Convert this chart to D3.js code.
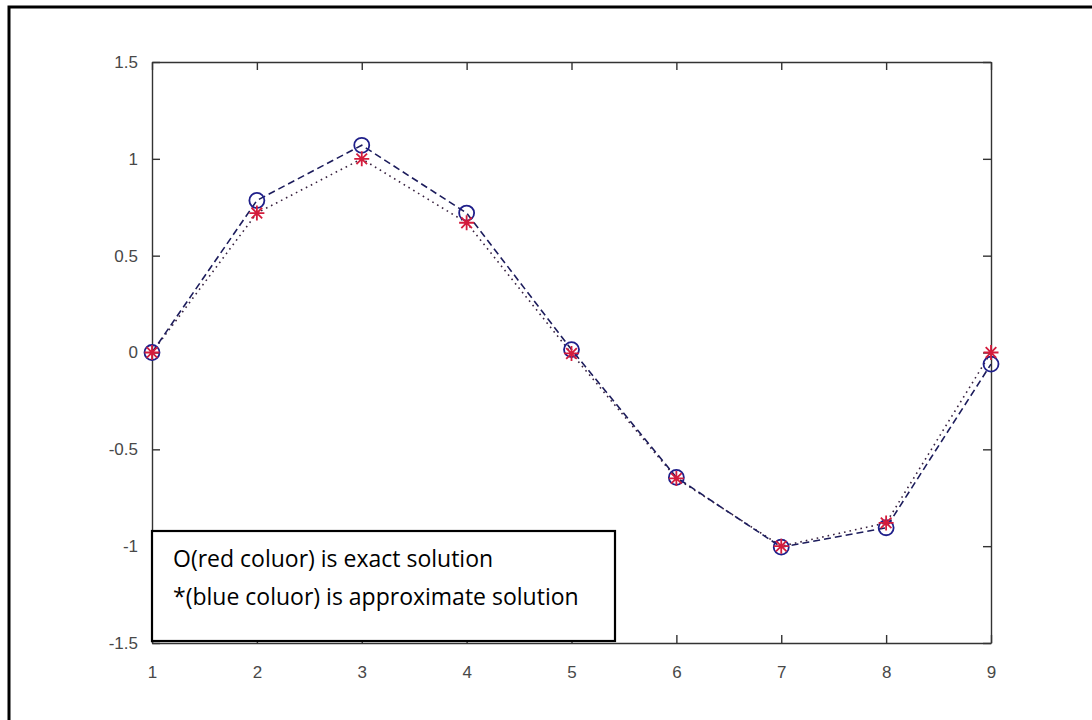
<!DOCTYPE html>
<html>
<head>
<meta charset="utf-8">
<script src="https://cdn.jsdelivr.net/npm/d3@7"></script>
<style>
  body { margin: 0; background: #fff; }
  .tk path, .tk line { stroke: #333; stroke-width: 1.4; }
</style>
</head>
<body>
<div id="chart"></div>
<script>
// x positions and the two series
var xs = [1, 2, 3, 4, 5, 6, 7, 8, 9];
var approx = [0, 0.785, 1.07, 0.72, 0.015, -0.645, -1.005, -0.905, -0.06];   // circles, dashed
var exact = [0, 0.72, 1.0, 0.67, -0.005, -0.65, -1.0, -0.88, 0.0];          // stars, dotted
var xTicks = [1, 2, 3, 4, 5, 6, 7, 8, 9];
var yTicks = [-1.5, -1, -0.5, 0, 0.5, 1, 1.5];
var legendLines = ["O(red coluor) is exact solution", "*(blue coluor) is approximate solution"];

var w = 1092, h = 720;
var svg = d3.select("#chart").append("svg")
    .attr("width", w)
    .attr("height", h);

// outer frame (only top/left visible in the picture)
svg.append("rect")
    .attr("x", 9).attr("y", 7)
    .attr("width", 1200).attr("height", 800)
    .attr("fill", "none")
    .attr("stroke", "#000")
    .attr("stroke-width", 3);

var x = d3.scaleLinear().domain([1, 9]).range([152, 991]);
var y = d3.scaleLinear().domain([-1.5, 1.5]).range([643, 62]);

var fmt = function (d) { return String(d); };

var styleTicks = function (g) {
    g.attr("font-size", null).attr("font-family", null);
    g.selectAll("text")
        .attr("font-family", "'Liberation Sans', Arial, sans-serif")
        .attr("font-size", "17px")
        .attr("fill", "#484848");
};

svg.append("g").attr("class", "tk")
    .attr("transform", "translate(0,643)")
    .call(d3.axisBottom(x).tickValues(xTicks).tickSizeInner(-8).tickSizeOuter(0).tickPadding(23).tickFormat(fmt))
    .call(styleTicks);
svg.append("g").attr("class", "tk")
    .attr("transform", "translate(0,62)")
    .call(d3.axisTop(x).tickValues(xTicks).tickSizeInner(-8).tickSizeOuter(0).tickFormat(""));
svg.append("g").attr("class", "tk")
    .attr("transform", "translate(152,0)")
    .call(d3.axisLeft(y).tickValues(yTicks).tickSizeInner(-8).tickSizeOuter(0).tickPadding(14).tickFormat(fmt))
    .call(styleTicks);
svg.append("g").attr("class", "tk")
    .attr("transform", "translate(991,0)")
    .call(d3.axisRight(y).tickValues(yTicks).tickSizeInner(-8).tickSizeOuter(0).tickFormat(""));

var line = d3.line()
    .x(function (d, i) { return x(xs[i]); })
    .y(function (d) { return y(d); });

svg.append("path")
    .datum(exact)
    .attr("d", line)
    .attr("fill", "none")
    .attr("stroke", "#3a2340")
    .attr("stroke-width", 1.6)
    .attr("stroke-dasharray", "1.6,4");

svg.append("path")
    .datum(approx)
    .attr("d", line)
    .attr("fill", "none")
    .attr("stroke", "#1c1c5c")
    .attr("stroke-width", 1.6)
    .attr("stroke-dasharray", "7,4");

svg.selectAll("circle.ap")
    .data(approx)
    .enter()
    .append("circle")
    .attr("class", "ap")
    .attr("cx", function (d, i) { return x(xs[i]); })
    .attr("cy", function (d) { return y(d); })
    .attr("r", 7.5)
    .attr("fill", "none")
    .attr("stroke", "#1f1f8a")
    .attr("stroke-width", 1.8);

// 8-armed star like MATLAB's '*'
var star = function (r) {
    var p = d3.path();
    var k = r * Math.SQRT1_2;
    p.moveTo(-r, 0); p.lineTo(r, 0);
    p.moveTo(0, -r); p.lineTo(0, r);
    p.moveTo(-k, -k); p.lineTo(k, k);
    p.moveTo(-k, k); p.lineTo(k, -k);
    return p.toString();
};

svg.selectAll("path.ex")
    .data(exact)
    .enter()
    .append("path")
    .attr("class", "ex")
    .attr("transform", function (d, i) { return "translate(" + x(xs[i]) + "," + y(d) + ")"; })
    .attr("d", star(7.5))
    .attr("stroke", "#d41c3c")
    .attr("stroke-width", 1.8);

// text box
svg.append("rect")
    .attr("x", 152).attr("y", 531)
    .attr("width", 463).attr("height", 110)
    .attr("fill", "#fff")
    .attr("stroke", "#000")
    .attr("stroke-width", 2.2);

svg.selectAll("text.lg")
    .data(legendLines)
    .enter()
    .append("text")
    .attr("class", "lg")
    .attr("x", 173)
    .attr("y", function (d, i) { return 567 + i * 38; })
    .attr("font-family", "'Open Sans', sans-serif")
    .attr("font-size", "23px")
    .attr("fill", "#000")
    .text(function (d) { return d; });
</script>
</body>
</html>
